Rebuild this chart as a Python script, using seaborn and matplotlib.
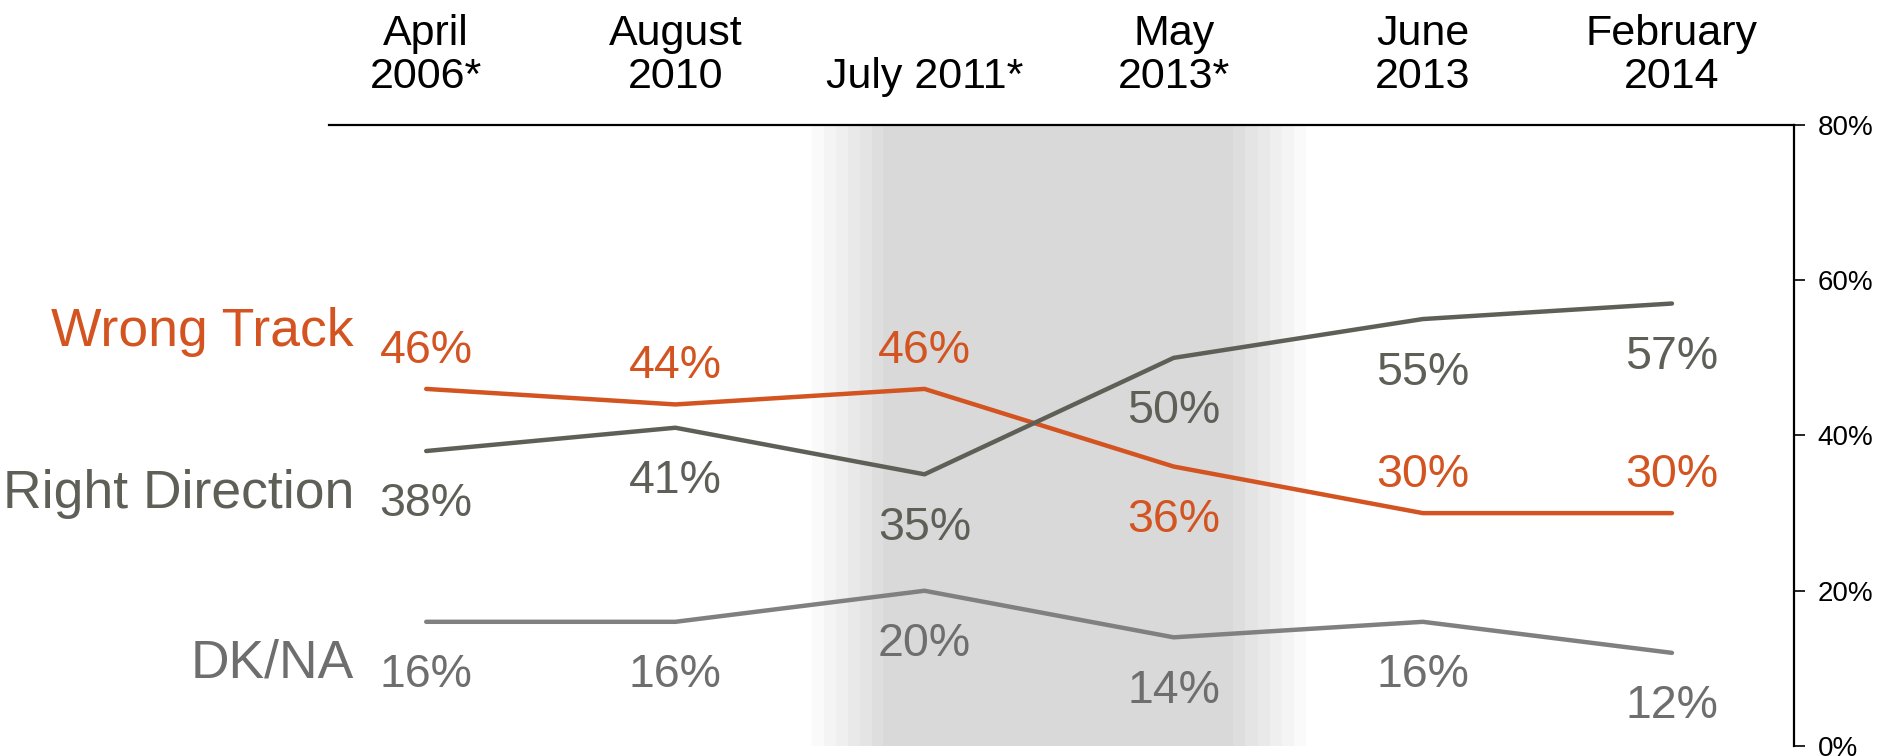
import numpy as np
import pandas as pd
import matplotlib
matplotlib.use("Agg")
import matplotlib.pyplot as plt
import seaborn as sns

# ---- data ----
periods = ["April\n2006*", "August\n2010", "July 2011*", "May\n2013*", "June\n2013", "February\n2014"]
wrong_track = [46, 44, 46, 36, 30, 30]
right_direction = [38, 41, 35, 50, 55, 57]
dk_na = [16, 16, 20, 14, 16, 12]
series_names = ["Wrong Track", "Right Direction", "DK/NA"]
# label above (+1) or below (-1) the point
wrong_pos = [1, 1, 1, -1, 1, 1]
right_pos = [-1, -1, -1, -1, -1, -1]
dk_pos = [-1, -1, -1, -1, -1, -1]

colors = {"Wrong Track": "#D35420", "Right Direction": "#5E6058", "DK/NA": "#808080"}
text_colors = {"Wrong Track": "#D35420", "Right Direction": "#5E6058", "DK/NA": "#6E6E6E"}

df = pd.DataFrame({
    "x": list(range(len(periods))) * 3,
    "value": wrong_track + right_direction + dk_na,
    "series": np.repeat(series_names, len(periods)),
})

sns.set_style("white")
plt.rcParams["font.family"] = ["Liberation Sans", "DejaVu Sans"]

fig = plt.figure(figsize=(18.77, 7.56), dpi=100)
ax = fig.add_axes([0.1753, 0.0132, 0.9558 - 0.1753, 0.8347 - 0.0132])

# shaded band with soft edges
base = np.array([0xD9, 0xD9, 0xD9]) / 255
steps = 6
left0, left1 = 1.55, 1.835
right0, right1 = 3.24, 3.53
for i in range(steps):
    frac = (i + 1) / (steps + 1)
    c = 1 - (1 - base) * frac
    w = (left1 - left0) / steps
    ax.axvspan(left0 + i * w, left0 + (i + 1) * w, color=c, lw=0, zorder=0)
    w2 = (right1 - right0) / steps
    ax.axvspan(right1 - (i + 1) * w2, right1 - i * w2, color=c, lw=0, zorder=0)
ax.axvspan(left1, right0, color=base, lw=0, zorder=0)

sns.lineplot(data=df, x="x", y="value", hue="series", palette=colors,
             linewidth=3.2, legend=False, ax=ax, zorder=3)

# value labels
for name, vals, pos in [("Wrong Track", wrong_track, wrong_pos),
                        ("Right Direction", right_direction, right_pos),
                        ("DK/NA", dk_na, dk_pos)]:
    for i, (v, p) in enumerate(zip(vals, pos)):
        off = 27.5 if p > 0 else -38.5
        ax.annotate(f"{v}%", (i, v), xytext=(0, off), textcoords="offset points",
                    ha="center", va="center", fontsize=33.5,
                    color=text_colors[name], zorder=4)

# series names on the left
for name, y in [("Wrong Track", 53.3), ("Right Direction", 32.4), ("DK/NA", 10.6)]:
    ax.text(-0.29, y, name, ha="right", va="center", fontsize=38.5,
            color=text_colors[name], clip_on=False)

ax.set_xlim(-0.39, 5.49)
ax.set_ylim(0, 80)

ax.set_xticks(range(len(periods)))
ax.set_xticklabels(periods, fontsize=31, linespacing=1.1, color="black")
ax.xaxis.tick_top()
ax.tick_params(axis="x", length=0, pad=20)

ax.yaxis.tick_right()
ax.set_yticks([0, 20, 40, 60, 80])
ax.set_yticklabels([f"{t}%" for t in [0, 20, 40, 60, 80]], fontsize=20)
ax.tick_params(axis="y", length=8, width=1.2, direction="out", pad=9, colors="black")
ax.set_xlabel("")
ax.set_ylabel("")

for s in ["left", "bottom"]:
    ax.spines[s].set_visible(False)
for s in ["top", "right"]:
    ax.spines[s].set_visible(True)
    ax.spines[s].set_color("black")
    ax.spines[s].set_linewidth(1.6)

fig.savefig("out.png", dpi=100)
